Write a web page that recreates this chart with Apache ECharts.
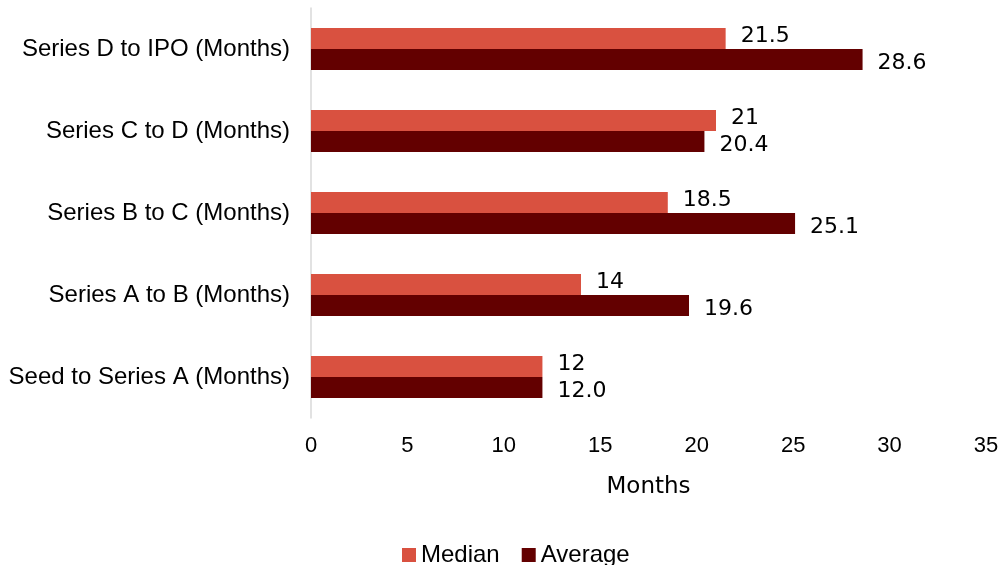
<!DOCTYPE html>
<html>
<head>
<meta charset="utf-8">
<script src="https://cdn.jsdelivr.net/npm/echarts@6/dist/echarts.min.js"></script>
<style>
  html, body { margin: 0; padding: 0; background: #ffffff; }
  #chart { width: 1005px; height: 565px; }
</style>
</head>
<body>
<div id="chart"></div>
<script>
// Funding stage transitions, bottom to top
const stages = [
  'Seed to Series A (Months)',
  'Series A to B (Months)',
  'Series B to C (Months)',
  'Series C to D (Months)',
  'Series D to IPO (Months)'
];
const medianMonths = [12, 14, 18.5, 21, 21.5];
const averageMonths = [12.0, 19.6, 25.1, 20.4, 28.6];
const xTicks = [0, 5, 10, 15, 20, 25, 30, 35];

const FONT = '"Liberation Sans", Arial, sans-serif';
const ROUND_FONT = '"DejaVu Sans", sans-serif';

const chart = echarts.init(document.getElementById('chart'), null, { renderer: 'canvas' });

chart.setOption({
  animation: false,
  backgroundColor: '#ffffff',
  textStyle: { fontFamily: FONT },
  grid: { left: 311, right: 19, top: 8, bottom: 147, containLabel: false },
  legend: {
    data: ['Median', 'Average'],
    top: 538,
    left: 397,
    itemWidth: 14,
    itemHeight: 14,
    itemGap: 22,
    icon: 'rect',
    textStyle: { fontSize: 24, color: '#000000', fontFamily: FONT }
  },
  xAxis: {
    type: 'value',
    min: xTicks[0],
    max: xTicks[xTicks.length - 1],
    interval: 5,
    name: 'Months',
    nameLocation: 'middle',
    nameGap: 58,
    nameTextStyle: { fontSize: 23, color: '#000000', fontFamily: ROUND_FONT },
    axisLine: { show: false },
    axisTick: { show: false },
    splitLine: { show: false },
    axisLabel: { fontSize: 22, color: '#000000', margin: 17, fontFamily: FONT }
  },
  yAxis: {
    type: 'category',
    data: stages,
    axisLine: { show: true, lineStyle: { color: '#d9d9d9', width: 1.5 } },
    axisTick: { show: false },
    axisLabel: { fontSize: 24, color: '#000000', margin: 21, fontFamily: FONT }
  },
  series: [
    {
      name: 'Median',
      type: 'bar',
      data: medianMonths,
      barWidth: 21,
      barGap: '0%',
      itemStyle: { color: '#d95140' },
      label: {
        show: true,
        position: 'right',
        distance: 15,
        offset: [0, -2],
        fontSize: 22,
        color: '#000000',
        fontFamily: ROUND_FONT,
        formatter: p => String(p.value)
      }
    },
    {
      name: 'Average',
      type: 'bar',
      data: averageMonths,
      barWidth: 21,
      barGap: '0%',
      itemStyle: { color: '#630000' },
      label: {
        show: true,
        position: 'right',
        distance: 15,
        offset: [0, 4],
        fontSize: 22,
        color: '#000000',
        fontFamily: ROUND_FONT,
        formatter: p => p.value.toFixed(1)
      }
    }
  ]
});
</script>
</body>
</html>
